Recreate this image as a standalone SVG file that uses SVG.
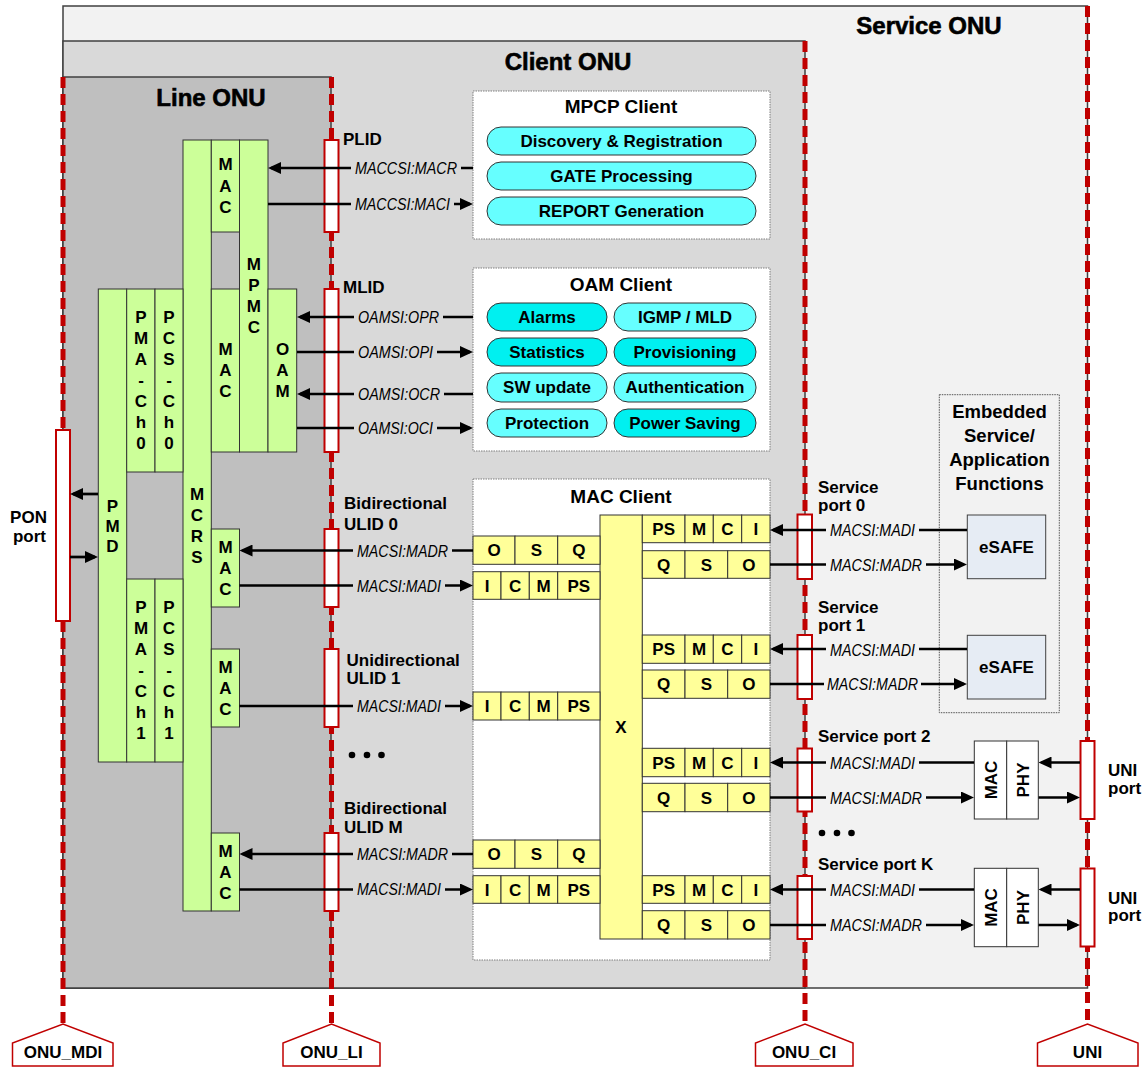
<svg xmlns="http://www.w3.org/2000/svg" width="1146" height="1067" viewBox="0 0 1146 1067">
<defs>
<marker id="ah" markerUnits="userSpaceOnUse" markerWidth="13" markerHeight="12" refX="10" refY="6" orient="auto"><path d="M0,0 L13,6 L0,12 Z" fill="#000"/></marker>
</defs>
<style>
text{font-family:"Liberation Sans",Arial,Helvetica,sans-serif;fill:#000}
.t{font-size:24px;font-weight:bold;text-anchor:middle;stroke:#000;stroke-width:0.6}
.h{font-size:19px;font-weight:bold;text-anchor:middle}
.b{font-size:17px;font-weight:bold}
.m{text-anchor:middle}
.i{font-size:16.5px;font-style:italic}
.gc{fill:#d9d9d9}
.gs{fill:#f2f2f2}
.g{fill:#ccff99;stroke:#333;stroke-width:1}
.y{fill:#ffff99;stroke:#333;stroke-width:1}
.port{fill:#fff;stroke:#c00000;stroke-width:2}
.ifl{fill:none;stroke:#c00000;stroke-width:5;stroke-dasharray:11 6}
.cl{fill:#fff;stroke:#7f7f7f;stroke-width:1;stroke-dasharray:1.5 1}
.p1{fill:#66ffff;stroke:#333;stroke-width:1}
.p2{fill:#00f0f0;stroke:#333;stroke-width:1}
.c{fill:none;stroke:#000;stroke-width:2.7}
.pent{fill:#fff;stroke:#c00000;stroke-width:1.5}
.wb{fill:#fff;stroke:#333;stroke-width:1}
.es{fill:#e6ecf4;stroke:#404040;stroke-width:1}
</style>

<!-- domains -->
<g id="service-onu">
<rect x="63" y="6" width="1024.5" height="982" fill="#f2f2f2" stroke="#404040" stroke-width="1.5"/>
<text class="t" x="929" y="34">Service ONU</text>
</g>
<g id="client-onu">
<rect x="63" y="41" width="742" height="947" fill="#d9d9d9" stroke="#404040" stroke-width="1.5"/>
<text class="t" x="568" y="70">Client ONU</text>
</g>
<g id="line-onu">
<rect x="63" y="77" width="268" height="911" fill="#bfbfbf" stroke="#404040" stroke-width="1.5"/>
<text class="t" x="211" y="106">Line ONU</text>
</g>

<!-- interface lines -->
<g id="interfaces">
<path class="ifl" d="M63,77 V1024"/>
<path class="ifl" d="M331.5,77 V1024"/>
<path class="ifl" d="M805,41 V1024"/>
<path class="ifl" d="M1087.5,6 V1024"/>
</g>

<!-- interface labels -->
<g id="label-onu-mdi">
<polygon class="pent" points="12.5,1066 12.5,1043 63,1024 113,1043 113,1066"/>
<text class="b m" x="63" y="1058">ONU_MDI</text>
</g>
<g id="label-onu-li">
<polygon class="pent" points="283,1066 283,1043 331.5,1024 380,1043 380,1066"/>
<text class="b m" x="331.5" y="1058">ONU_LI</text>
</g>
<g id="label-onu-ci">
<polygon class="pent" points="755.5,1066 755.5,1043 805,1024 853,1043 853,1066"/>
<text class="b m" x="804" y="1058">ONU_CI</text>
</g>
<g id="label-uni">
<polygon class="pent" points="1037.5,1066 1037.5,1043 1087.5,1024 1138,1043 1138,1066"/>
<text class="b m" x="1087.5" y="1058">UNI</text>
</g>

<!-- Line ONU stack -->
<g id="mcrs">
<rect class="g" x="183" y="140" width="28.3" height="771"/>
<text class="b m" x="197" y="500"><tspan x="197">M</tspan><tspan x="197" dy="21">C</tspan><tspan x="197" dy="21">R</tspan><tspan x="197" dy="21">S</tspan></text>
</g>
<g id="mac-plid">
<rect class="g" x="211.3" y="140" width="28.2" height="92"/>
<text class="b m" x="225.5" y="170"><tspan x="225.5">M</tspan><tspan x="225.5" dy="21.5">A</tspan><tspan x="225.5" dy="21.5">C</tspan></text>
</g>
<g id="mpmc">
<rect class="g" x="239.5" y="140" width="28.5" height="312"/>
<text class="b m" x="253.8" y="270"><tspan x="253.8">M</tspan><tspan x="253.8" dy="21">P</tspan><tspan x="253.8" dy="21">M</tspan><tspan x="253.8" dy="21">C</tspan></text>
</g>
<g id="mac-mlid">
<rect class="g" x="211.3" y="289" width="28.2" height="163"/>
<text class="b m" x="225.5" y="355"><tspan x="225.5">M</tspan><tspan x="225.5" dy="21">A</tspan><tspan x="225.5" dy="21">C</tspan></text>
</g>
<g id="oam">
<rect class="g" x="268" y="289" width="28.7" height="163"/>
<text class="b m" x="282.5" y="355"><tspan x="282.5">O</tspan><tspan x="282.5" dy="21">A</tspan><tspan x="282.5" dy="21">M</tspan></text>
</g>
<g id="pmd">
<rect class="g" x="98.3" y="289" width="28.4" height="473"/>
<text class="b m" x="112.5" y="512"><tspan x="112.5">P</tspan><tspan x="112.5" dy="20">M</tspan><tspan x="112.5" dy="20">D</tspan></text>
</g>
<g id="pma-ch0">
<rect class="g" x="126.7" y="289" width="28.3" height="183"/>
<text class="b m" x="141" y="323"><tspan x="141">P</tspan><tspan x="141" dy="21">M</tspan><tspan x="141" dy="21">A</tspan><tspan x="141" dy="21">-</tspan><tspan x="141" dy="21">C</tspan><tspan x="141" dy="21">h</tspan><tspan x="141" dy="20.5">0</tspan></text>
</g>
<g id="pcs-ch0">
<rect class="g" x="155" y="289" width="28" height="183"/>
<text class="b m" x="169" y="323"><tspan x="169">P</tspan><tspan x="169" dy="21">C</tspan><tspan x="169" dy="21">S</tspan><tspan x="169" dy="21">-</tspan><tspan x="169" dy="21">C</tspan><tspan x="169" dy="21">h</tspan><tspan x="169" dy="20.5">0</tspan></text>
</g>
<g id="pma-ch1">
<rect class="g" x="126.7" y="579" width="28.3" height="183"/>
<text class="b m" x="141" y="613"><tspan x="141">P</tspan><tspan x="141" dy="21">M</tspan><tspan x="141" dy="21">A</tspan><tspan x="141" dy="21">-</tspan><tspan x="141" dy="21">C</tspan><tspan x="141" dy="21">h</tspan><tspan x="141" dy="20.5">1</tspan></text>
</g>
<g id="pcs-ch1">
<rect class="g" x="155" y="579" width="28" height="183"/>
<text class="b m" x="169" y="613"><tspan x="169">P</tspan><tspan x="169" dy="21">C</tspan><tspan x="169" dy="21">S</tspan><tspan x="169" dy="21">-</tspan><tspan x="169" dy="21">C</tspan><tspan x="169" dy="21">h</tspan><tspan x="169" dy="20.5">1</tspan></text>
</g>
<g id="mac-ulid0">
<rect class="g" x="211.3" y="529" width="28.2" height="78"/>
<text class="b m" x="225.5" y="553"><tspan x="225.5">M</tspan><tspan x="225.5" dy="21">A</tspan><tspan x="225.5" dy="21">C</tspan></text>
</g>
<g id="mac-ulid1">
<rect class="g" x="211.3" y="649" width="28.2" height="78"/>
<text class="b m" x="225.5" y="673"><tspan x="225.5">M</tspan><tspan x="225.5" dy="21">A</tspan><tspan x="225.5" dy="21">C</tspan></text>
</g>
<g id="mac-ulidm">
<rect class="g" x="211.3" y="833" width="28.2" height="78"/>
<text class="b m" x="225.5" y="857"><tspan x="225.5">M</tspan><tspan x="225.5" dy="21">A</tspan><tspan x="225.5" dy="21">C</tspan></text>
</g>

<!-- MPCP client -->
<g id="mpcp-client">
<rect class="cl" x="473" y="91" width="297" height="148"/>
<text class="h" x="621" y="113">MPCP Client</text>
<rect class="p1" x="487" y="127" width="269" height="28" rx="14"/>
<text class="b m" x="621.5" y="147">Discovery &amp; Registration</text>
<rect class="p1" x="487" y="162" width="269" height="28" rx="14"/>
<text class="b m" x="621.5" y="182">GATE Processing</text>
<rect class="p1" x="487" y="197" width="269" height="28" rx="14"/>
<text class="b m" x="621.5" y="217">REPORT Generation</text>
</g>

<!-- OAM client -->
<g id="oam-client">
<rect class="cl" x="473" y="268" width="297" height="183"/>
<text class="h" x="621" y="291">OAM Client</text>
<rect class="p2" x="487" y="303" width="120" height="28" rx="14"/>
<text class="b m" x="547" y="323">Alarms</text>
<rect class="p1" x="614" y="303" width="142" height="28" rx="14"/>
<text class="b m" x="685" y="323">IGMP / MLD</text>
<rect class="p2" x="487" y="338" width="120" height="28" rx="14"/>
<text class="b m" x="547" y="358">Statistics</text>
<rect class="p2" x="614" y="338" width="142" height="28" rx="14"/>
<text class="b m" x="685" y="358">Provisioning</text>
<rect class="p1" x="487" y="373" width="120" height="29" rx="14"/>
<text class="b m" x="547" y="393">SW update</text>
<rect class="p1" x="614" y="373" width="142" height="29" rx="14"/>
<text class="b m" x="685" y="393">Authentication</text>
<rect class="p1" x="487" y="409" width="120" height="28" rx="14"/>
<text class="b m" x="547" y="429">Protection</text>
<rect class="p2" x="614" y="409" width="142" height="28" rx="14"/>
<text class="b m" x="685" y="429">Power Saving</text>
</g>

<!-- MAC client -->
<g id="mac-client">
<rect class="cl" x="473" y="479" width="297" height="481"/>
<text class="h" x="621" y="503">MAC Client</text>
<rect class="y" x="600" y="515" width="42.3" height="424"/>
<text class="b m" x="621" y="733">X</text>
</g>
<g id="ulid0-queues">
<rect class="y" x="473" y="536" width="42" height="28.3"/><rect class="y" x="515" y="536" width="42.7" height="28.3"/><rect class="y" x="557.7" y="536" width="42.3" height="28.3"/>
<text class="b m" x="494" y="556">O</text><text class="b m" x="536.3" y="556">S</text><text class="b m" x="578.8" y="556">Q</text>
<rect class="y" x="473" y="571.7" width="28" height="27.6"/><rect class="y" x="501" y="571.7" width="28.3" height="27.6"/><rect class="y" x="529.3" y="571.7" width="28.4" height="27.6"/><rect class="y" x="557.7" y="571.7" width="42.3" height="27.6"/>
<text class="b m" x="487" y="591.5">I</text><text class="b m" x="515.2" y="591.5">C</text><text class="b m" x="543.5" y="591.5">M</text><text class="b m" x="578.8" y="591.5">PS</text>
</g>
<g id="ulid1-queues">
<rect class="y" x="473" y="692" width="28" height="28"/><rect class="y" x="501" y="692" width="28.3" height="28"/><rect class="y" x="529.3" y="692" width="28.4" height="28"/><rect class="y" x="557.7" y="692" width="42.3" height="28"/>
<text class="b m" x="487" y="712">I</text><text class="b m" x="515.2" y="712">C</text><text class="b m" x="543.5" y="712">M</text><text class="b m" x="578.8" y="712">PS</text>
</g>
<g id="ulidm-queues">
<rect class="y" x="473" y="840" width="42" height="28.3"/><rect class="y" x="515" y="840" width="42.7" height="28.3"/><rect class="y" x="557.7" y="840" width="42.3" height="28.3"/>
<text class="b m" x="494" y="860">O</text><text class="b m" x="536.3" y="860">S</text><text class="b m" x="578.8" y="860">Q</text>
<rect class="y" x="473" y="875.7" width="28" height="27.6"/><rect class="y" x="501" y="875.7" width="28.3" height="27.6"/><rect class="y" x="529.3" y="875.7" width="28.4" height="27.6"/><rect class="y" x="557.7" y="875.7" width="42.3" height="27.6"/>
<text class="b m" x="487" y="895.5">I</text><text class="b m" x="515.2" y="895.5">C</text><text class="b m" x="543.5" y="895.5">M</text><text class="b m" x="578.8" y="895.5">PS</text>
</g>
<g id="sp0-queues">
<rect class="y" x="642.3" y="515" width="42.7" height="27.7"/><rect class="y" x="685" y="515" width="28.3" height="27.7"/><rect class="y" x="713.3" y="515" width="28.4" height="27.7"/><rect class="y" x="741.7" y="515" width="28.3" height="27.7"/>
<text class="b m" x="663.7" y="535">PS</text><text class="b m" x="699.2" y="535">M</text><text class="b m" x="727.5" y="535">C</text><text class="b m" x="755.8" y="535">I</text>
<rect class="y" x="642.3" y="550.7" width="42.7" height="27.6"/><rect class="y" x="685" y="550.7" width="42.7" height="27.6"/><rect class="y" x="727.7" y="550.7" width="42.3" height="27.6"/>
<text class="b m" x="663.7" y="570.5">Q</text><text class="b m" x="706.3" y="570.5">S</text><text class="b m" x="748.8" y="570.5">O</text>
</g>
<g id="sp1-queues">
<rect class="y" x="642.3" y="635" width="42.7" height="28.3"/><rect class="y" x="685" y="635" width="28.3" height="28.3"/><rect class="y" x="713.3" y="635" width="28.4" height="28.3"/><rect class="y" x="741.7" y="635" width="28.3" height="28.3"/>
<text class="b m" x="663.7" y="655">PS</text><text class="b m" x="699.2" y="655">M</text><text class="b m" x="727.5" y="655">C</text><text class="b m" x="755.8" y="655">I</text>
<rect class="y" x="642.3" y="670" width="42.7" height="28.3"/><rect class="y" x="685" y="670" width="42.7" height="28.3"/><rect class="y" x="727.7" y="670" width="42.3" height="28.3"/>
<text class="b m" x="663.7" y="690">Q</text><text class="b m" x="706.3" y="690">S</text><text class="b m" x="748.8" y="690">O</text>
</g>
<g id="sp2-queues">
<rect class="y" x="642.3" y="748.3" width="42.7" height="28.4"/><rect class="y" x="685" y="748.3" width="28.3" height="28.4"/><rect class="y" x="713.3" y="748.3" width="28.4" height="28.4"/><rect class="y" x="741.7" y="748.3" width="28.3" height="28.4"/>
<text class="b m" x="663.7" y="768.5">PS</text><text class="b m" x="699.2" y="768.5">M</text><text class="b m" x="727.5" y="768.5">C</text><text class="b m" x="755.8" y="768.5">I</text>
<rect class="y" x="642.3" y="783.3" width="42.7" height="28.4"/><rect class="y" x="685" y="783.3" width="42.7" height="28.4"/><rect class="y" x="727.7" y="783.3" width="42.3" height="28.4"/>
<text class="b m" x="663.7" y="803.5">Q</text><text class="b m" x="706.3" y="803.5">S</text><text class="b m" x="748.8" y="803.5">O</text>
</g>
<g id="spk-queues">
<rect class="y" x="642.3" y="875.7" width="42.7" height="27.6"/><rect class="y" x="685" y="875.7" width="28.3" height="27.6"/><rect class="y" x="713.3" y="875.7" width="28.4" height="27.6"/><rect class="y" x="741.7" y="875.7" width="28.3" height="27.6"/>
<text class="b m" x="663.7" y="895.5">PS</text><text class="b m" x="699.2" y="895.5">M</text><text class="b m" x="727.5" y="895.5">C</text><text class="b m" x="755.8" y="895.5">I</text>
<rect class="y" x="642.3" y="910.7" width="42.7" height="28.3"/><rect class="y" x="685" y="910.7" width="42.7" height="28.3"/><rect class="y" x="727.7" y="910.7" width="42.3" height="28.3"/>
<text class="b m" x="663.7" y="931">Q</text><text class="b m" x="706.3" y="931">S</text><text class="b m" x="748.8" y="931">O</text>
</g>

<!-- Service ONU functions -->
<g id="embedded">
<rect x="939.3" y="394.7" width="120" height="318" fill="none" stroke="#555" stroke-width="1" stroke-dasharray="1.5 1"/>
<text class="b m" x="999.5" y="418" style="font-size:18.5px">Embedded</text>
<text class="b m" x="999.5" y="442" style="font-size:18.5px">Service/</text>
<text class="b m" x="999.5" y="466" style="font-size:18.5px">Application</text>
<text class="b m" x="999.5" y="490" style="font-size:18.5px">Functions</text>
</g>
<g id="esafe0">
<rect class="es" x="967.3" y="515" width="78.4" height="63.7"/>
<text class="b m" x="1006.5" y="553">eSAFE</text>
</g>
<g id="esafe1">
<rect class="es" x="967.3" y="635.3" width="78.4" height="63.7"/>
<text class="b m" x="1006.5" y="673">eSAFE</text>
</g>
<g id="macphy2">
<rect class="wb" x="974.3" y="741" width="32.4" height="78"/>
<rect class="wb" x="1006.7" y="741" width="31.6" height="78"/>
<text class="b m" transform="translate(996.5,780) rotate(-90)">MAC</text>
<text class="b m" transform="translate(1028.5,780) rotate(-90)">PHY</text>
</g>
<g id="macphyk">
<rect class="wb" x="974.3" y="868.3" width="32.4" height="78.4"/>
<rect class="wb" x="1006.7" y="868.3" width="31.6" height="78.4"/>
<text class="b m" transform="translate(996.5,907.5) rotate(-90)">MAC</text>
<text class="b m" transform="translate(1028.5,907.5) rotate(-90)">PHY</text>
</g>

<!-- ports -->
<g id="ports">
<rect class="port" x="56" y="430" width="14" height="191"/>
<rect class="port" x="324.5" y="140" width="14" height="92"/>
<rect class="port" x="324.5" y="289" width="14" height="163"/>
<rect class="port" x="324.5" y="529" width="14" height="78"/>
<rect class="port" x="324.5" y="649" width="14" height="78"/>
<rect class="port" x="324.5" y="833" width="14" height="78"/>
<rect class="port" x="797.5" y="514.5" width="14.5" height="64.5"/>
<rect class="port" x="797.5" y="635" width="14.5" height="64"/>
<rect class="port" x="797.5" y="748.5" width="14.5" height="63"/>
<rect class="port" x="797.5" y="876" width="14.5" height="63"/>
<rect class="port" x="1080.5" y="741" width="14" height="78"/>
<rect class="port" x="1080.5" y="868.5" width="14" height="78"/>
</g>

<!-- connectors -->
<g id="connectors" class="c" marker-end="url(#ah)">
<path d="M98,494 H73"/>
<path d="M70,557 H95"/>
<path d="M473,168 H271"/>
<path d="M268,204 H470"/>
<path d="M473,317 H300"/>
<path d="M297,352 H470"/>
<path d="M473,394 H300"/>
<path d="M297,428 H470"/>
<path d="M473,550.5 H242.5"/>
<path d="M239.5,585.5 H470"/>
<path d="M239.5,706 H470"/>
<path d="M473,854 H242.5"/>
<path d="M239.5,889.5 H470"/>
<path d="M967,530 H773"/>
<path d="M770,564.5 H964"/>
<path d="M967,649 H773"/>
<path d="M770,684 H964"/>
<path d="M974,762.5 H773"/>
<path d="M770,797.5 H971"/>
<path d="M1080,762.5 H1041.5"/>
<path d="M1038.5,797.5 H1077"/>
<path d="M974,889.5 H773"/>
<path d="M770,925 H971"/>
<path d="M1080,889.5 H1041.5"/>
<path d="M1038.5,925 H1077"/>
</g>

<!-- connector labels (background gaps break the line behind each label) -->
<g id="connector-labels">
<rect class="gc" x="351" y="163" width="110" height="10"/>
<rect class="gc" x="351" y="199" width="103" height="10"/>
<rect class="gc" x="354" y="312" width="89" height="10"/>
<rect class="gc" x="354" y="347" width="83" height="10"/>
<rect class="gc" x="354" y="389" width="90" height="10"/>
<rect class="gc" x="354" y="423" width="83" height="10"/>
<rect class="gc" x="353" y="545.5" width="99" height="10"/>
<rect class="gc" x="353" y="580.5" width="92" height="10"/>
<rect class="gc" x="353" y="701" width="92" height="10"/>
<rect class="gc" x="353" y="849" width="99" height="10"/>
<rect class="gc" x="353" y="884.5" width="92" height="10"/>
<rect class="gs" x="826" y="525" width="93" height="10"/>
<rect class="gs" x="826" y="559.5" width="100" height="10"/>
<rect class="gs" x="826" y="644" width="93" height="10"/>
<rect class="gs" x="824" y="679" width="97" height="10"/>
<rect class="gs" x="826" y="757.5" width="93" height="10"/>
<rect class="gs" x="826" y="792.5" width="100" height="10"/>
<rect class="gs" x="826" y="884.5" width="93" height="10"/>
<rect class="gs" x="826" y="920" width="100" height="10"/>
<text class="i" x="355" y="174" textLength="102" lengthAdjust="spacingAndGlyphs">MACCSI:MACR</text>
<text class="i" x="355" y="210" textLength="95" lengthAdjust="spacingAndGlyphs">MACCSI:MACI</text>
<text class="i" x="358" y="323" textLength="81" lengthAdjust="spacingAndGlyphs">OAMSI:OPR</text>
<text class="i" x="358" y="358" textLength="75" lengthAdjust="spacingAndGlyphs">OAMSI:OPI</text>
<text class="i" x="358" y="400" textLength="82" lengthAdjust="spacingAndGlyphs">OAMSI:OCR</text>
<text class="i" x="358" y="434" textLength="75" lengthAdjust="spacingAndGlyphs">OAMSI:OCI</text>
<text class="i" x="357" y="556.5" textLength="91" lengthAdjust="spacingAndGlyphs">MACSI:MADR</text>
<text class="i" x="357" y="591.5" textLength="84" lengthAdjust="spacingAndGlyphs">MACSI:MADI</text>
<text class="i" x="357" y="711.5" textLength="84" lengthAdjust="spacingAndGlyphs">MACSI:MADI</text>
<text class="i" x="357" y="860" textLength="91" lengthAdjust="spacingAndGlyphs">MACSI:MADR</text>
<text class="i" x="357" y="895" textLength="84" lengthAdjust="spacingAndGlyphs">MACSI:MADI</text>
<text class="i" x="830" y="536" textLength="85" lengthAdjust="spacingAndGlyphs">MACSI:MADI</text>
<text class="i" x="830" y="570.5" textLength="92" lengthAdjust="spacingAndGlyphs">MACSI:MADR</text>
<text class="i" x="830" y="655.5" textLength="85" lengthAdjust="spacingAndGlyphs">MACSI:MADI</text>
<text class="i" x="827" y="690" textLength="91" lengthAdjust="spacingAndGlyphs">MACSI:MADR</text>
<text class="i" x="830" y="768.5" textLength="85" lengthAdjust="spacingAndGlyphs">MACSI:MADI</text>
<text class="i" x="830" y="803.5" textLength="92" lengthAdjust="spacingAndGlyphs">MACSI:MADR</text>
<text class="i" x="830" y="895.5" textLength="85" lengthAdjust="spacingAndGlyphs">MACSI:MADI</text>
<text class="i" x="830" y="931" textLength="92" lengthAdjust="spacingAndGlyphs">MACSI:MADR</text>
</g>

<!-- port labels -->
<g id="port-labels">
<text class="b m" x="28.5" y="523">PON</text>
<text class="b m" x="29.5" y="542">port</text>
<text class="b" x="343" y="145">PLID</text>
<text class="b" x="343" y="293">MLID</text>
<text class="b" x="344" y="509">Bidirectional</text>
<text class="b" x="344" y="530">ULID 0</text>
<text class="b" x="346.5" y="666">Unidirectional</text>
<text class="b" x="346.5" y="684">ULID 1</text>
<circle cx="352" cy="755" r="3.3"/><circle cx="367" cy="755" r="3.3"/><circle cx="381.5" cy="755" r="3.3"/>
<text class="b" x="344" y="814">Bidirectional</text>
<text class="b" x="344" y="833">ULID M</text>
<text class="b" x="818" y="493">Service</text>
<text class="b" x="818" y="511">port 0</text>
<text class="b" x="818" y="613">Service</text>
<text class="b" x="818" y="631">port 1</text>
<text class="b" x="818" y="742">Service port 2</text>
<circle cx="822" cy="833" r="3.3"/><circle cx="837" cy="833" r="3.3"/><circle cx="851.5" cy="833" r="3.3"/>
<text class="b" x="818" y="870">Service port K</text>
<text class="b" x="1108" y="776">UNI</text>
<text class="b" x="1108" y="793.5">port</text>
<text class="b" x="1108" y="903.5">UNI</text>
<text class="b" x="1108" y="921">port</text>
</g>
</svg>
